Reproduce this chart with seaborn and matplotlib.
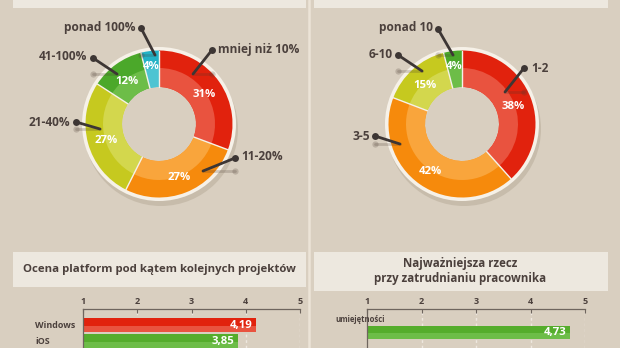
import numpy as np
import pandas as pd
import matplotlib
matplotlib.use("Agg")
import matplotlib.pyplot as plt
import seaborn as sns
from matplotlib.patches import Rectangle, Circle
from matplotlib.transforms import blended_transform_factory

# ---------------- data ----------------
budget_labels = ["mniej niż 10%", "11-20%", "21-40%", "41-100%", "ponad 100%"]
budget_values = [31, 27, 27, 12, 4]
team_labels = ["1-2", "3-5", "6-10", "ponad 10"]
team_values = [38, 42, 15, 4]
platforms = ["Windows", "iOS"]
platform_scores = [4.19, 3.85]
hiring_factors = ["umiejętności"]
hiring_scores = [4.73]
axis_ticks = [1, 2, 3, 4, 5]
title_platforms = "Ocena platform pod kątem kolejnych projektów"
title_hiring = "Najważniejsza rzecz\nprzy zatrudnianiu pracownika"

# ---------------- style ----------------
W, H = 620, 348
BG = "#d9cfc0"
BOX = "#ede8df"
RIM = "#f6f1e8"
SHADOW = "#c7bcab"
TXT = "#4b403c"
LINE = "#3d3634"

RED_D, RED_L = "#e1220d", "#e9533f"
ORA_D, ORA_L = "#f68a0c", "#f9a53c"
YG_D, YG_L = "#c6c91f", "#d3d74d"
GRN_D, GRN_L = "#4ba82a", "#6dbd48"
TEA_D, TEA_L = "#24b2c6", "#4ec4d2"

sns.set_theme(style="white")
plt.rcParams["font.family"] = ["Open Sans", "DejaVu Sans"]
plt.rcParams["font.weight"] = "bold"

fig = plt.figure(figsize=(W / 100, H / 100), dpi=100, facecolor=BG)


def px_axes(x0, y0, x1, y1):
    return fig.add_axes([x0 / W, 1 - y1 / H, (x1 - x0) / W, (y1 - y0) / H])


# background decorations
bg = fig.add_axes([0, 0, 1, 1])
bg.set_xlim(0, W)
bg.set_ylim(H, 0)
bg.axis("off")
bg.set_facecolor(BG)
for (x, y, w, h) in [(13, -5, 293, 13), (314, -5, 294, 13), (13, 252, 293, 35), (314, 252, 294, 39)]:
    bg.add_patch(Rectangle((x, y), w, h, color=BOX, lw=0))
bg.plot([309, 309], [0, H], color="#ece4d7", lw=1.8)
bg.text(159.5, 269.5, title_platforms, ha="center", va="center", color=TXT,
        fontsize=8.2, fontweight="bold")
bg.text(460, 271, title_hiring, ha="center", va="center", color=TXT,
        fontsize=8.3, fontweight="bold", linespacing=1.2)


def donut(cx, cy, values, dark, light):
    a = px_axes(cx - 100, cy - 100, cx + 100, cy + 100)
    a.add_patch(Circle((2, -5), 77, color=SHADOW, zorder=0, lw=0))
    a.add_patch(Circle((0, 0), 77, color=RIM, zorder=0.5, lw=0))
    a.add_patch(Circle((0, 0), 37, color=BG, zorder=0.6, lw=0))
    a.pie(values, radius=73.5, colors=dark, startangle=90, counterclock=False,
          wedgeprops=dict(width=36.5, linewidth=0))
    a.pie(values, radius=56, colors=light, startangle=90, counterclock=False,
          wedgeprops=dict(width=19, linewidth=0))
    frac = np.array(values, dtype=float) / np.sum(values)
    bounds = 90 - 360 * np.concatenate([[0], np.cumsum(frac)])
    for ang in bounds[:-1]:
        t = np.deg2rad(ang)
        a.plot([37 * np.cos(t), 73.5 * np.cos(t)], [37 * np.sin(t), 73.5 * np.sin(t)],
               color=RIM, lw=1.0, zorder=3)
    mids = (bounds[:-1] + bounds[1:]) / 2
    for v, f, m in zip(values, frac, mids):
        t = np.deg2rad(m)
        r = 60 if f < 0.06 else 55
        a.text(r * np.cos(t), r * np.sin(t) - 2, f"{v}%", ha="center", va="center",
               color="white", fontsize=8.2, fontweight="bold", zorder=4)
    a.set_xlim(-100, 100)
    a.set_ylim(-100, 100)
    a.set_aspect("equal")
    a.axis("off")
    return a


donut(159, 124, budget_values, [RED_D, ORA_D, YG_D, GRN_D, TEA_D],
      [RED_L, ORA_L, YG_L, GRN_L, TEA_L])
donut(462, 124, team_values, [RED_D, ORA_D, YG_D, GRN_D],
      [RED_L, ORA_L, YG_L, GRN_L])


def bar_panel(x0, x1, cats, vals, dark, light, ylim, width, labels_above):
    a = px_axes(x0, 309, x1, H)
    a.set_facecolor("none")
    df = pd.DataFrame({"cat": cats, "val": vals})
    sns.barplot(data=df, x="val", y="cat", hue="cat", palette=light, width=width,
                legend=False, ax=a, saturation=1, linewidth=0, orient="h")
    pos = np.arange(len(cats))
    a.barh(pos - width / 2, vals, height=width * 0.55, align="edge", color=dark, lw=0)
    for p, v in zip(pos, vals):
        a.text(v - 0.07, p + 0.02 * width, f"{v:.2f}".replace(".", ","), ha="right",
               va="center", color="white", fontsize=8.2, fontweight="bold")
    for t in axis_ticks[1:]:
        a.axvline(t, color="#eee8df", lw=1, ls=(0, (2, 2)), zorder=0)
    a.set_xlim(axis_ticks[0], axis_ticks[-1])
    a.set_ylim(*ylim)
    a.xaxis.tick_top()
    a.set_xticks(axis_ticks)
    a.set_xticklabels([str(t) for t in axis_ticks], fontsize=6.5, fontweight="bold", color=TXT)
    a.tick_params(axis="x", direction="in", length=3, width=0.8, color="#6e655e", pad=2,
                  top=True, bottom=False)
    for s in ["right", "bottom"]:
        a.spines[s].set_visible(False)
    for s in ["top", "left"]:
        a.spines[s].set_color("#6e655e")
        a.spines[s].set_linewidth(0.9)
    a.set_xlabel("")
    a.set_ylabel("")
    a.set_yticks([])
    tr = blended_transform_factory(a.transAxes, a.transData)
    if labels_above:
        for p, c in zip(pos, cats):
            a.text(-0.147, p - 0.45, c, transform=tr, ha="left", va="center",
                   color=TXT, fontsize=5.5, fontweight="bold")
    else:
        for p, c in zip(pos, cats):
            a.text(-0.221, p, c, transform=tr, ha="left", va="center",
                   color=TXT, fontsize=6.4, fontweight="bold")
    return a


bar_panel(83, 300, platforms, platform_scores, [RED_D, "#55ad2c"], [RED_L, GRN_L],
          (1.4375, -1.0), 0.875, False)
bar_panel(367, 585, hiring_factors, hiring_scores, ["#55ad2c"], [GRN_L],
          (0.554, -0.839), 0.464, True)

# overlay: donut labels with leader lines
ov = fig.add_axes([0, 0, 1, 1])
ov.set_facecolor("none")
ov.set_xlim(0, W)
ov.set_ylim(H, 0)
ov.axis("off")

label_layout = {
    "mniej niż 10%": ((218, 49, "left"), (212, 50), (193, 74)),
    "11-20%": ((241, 157, "left"), (235, 158), (203, 171)),
    "21-40%": ((70, 122, "right"), (76, 122), (100, 129)),
    "41-100%": ((87, 57, "right"), (93, 58), (117, 74)),
    "ponad 100%": ((136, 28, "right"), (141, 28), (155, 55)),
    "1-2": ((531, 68, "left"), (524, 68), (505, 92)),
    "3-5": ((370, 136, "right"), (375, 136), (400, 144)),
    "6-10": ((393, 54, "right"), (398, 55), (422, 71)),
    "ponad 10": ((433, 28, "right"), (438, 29), (453, 55)),
}
for lab in budget_labels + team_labels:
    (tx, ty, ha), (dx, dy), (ex, ey) = label_layout[lab]
    ov.plot([dx, ex], [ey, ey], color="#4a3a30", alpha=0.22, lw=2, solid_capstyle="round")
    ov.plot([dx], [ey], "o", color="#4a3a30", alpha=0.22, ms=4.5, mew=0)
    ov.plot([dx, ex], [dy, ey], color=LINE, lw=2, solid_capstyle="round")
    ov.plot([dx], [dy], "o", color=LINE, ms=5, mew=0)
    ov.text(tx, ty, lab, ha=ha, va="center", color=TXT, fontsize=8.6, fontweight="bold")

fig.savefig("out.png", dpi=100, facecolor=BG)
